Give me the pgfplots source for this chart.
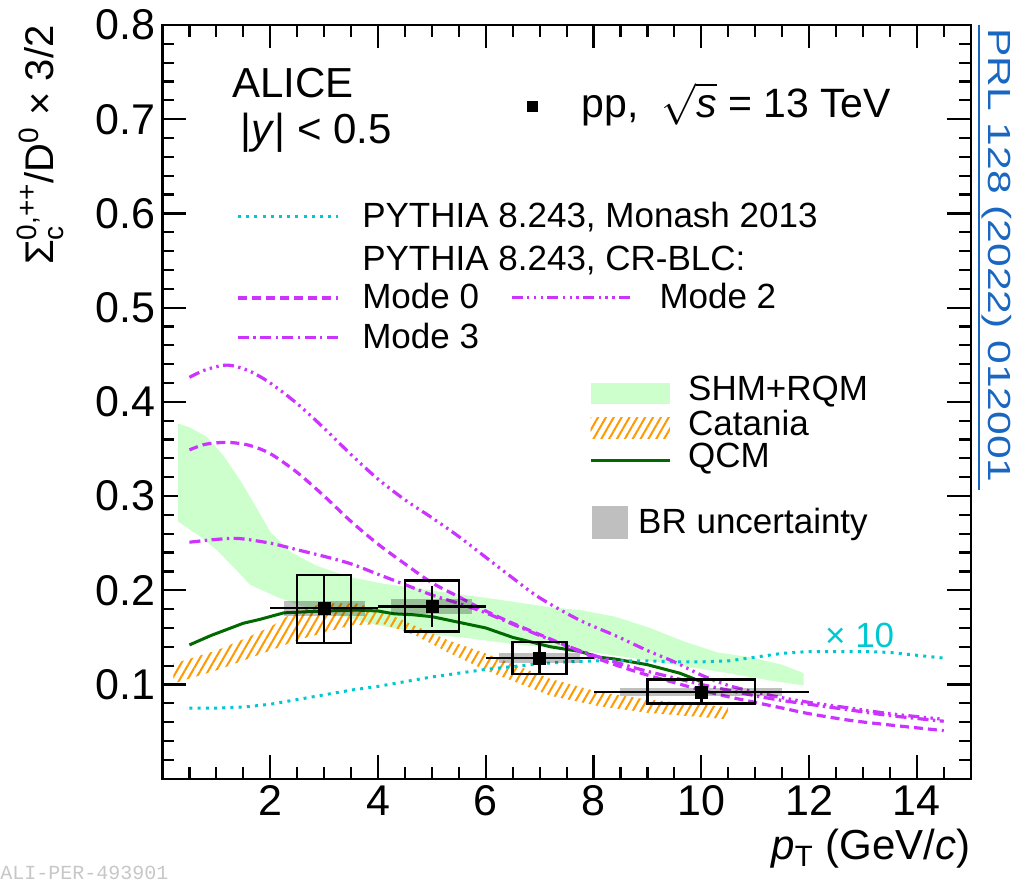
\documentclass[border=0pt]{standalone}
\usepackage{amsmath}
\usepackage{graphicx}
\usepackage{fontspec}
\setmainfont{Liberation Sans}
\newfontfamily\monofont{Liberation Mono}
\usepackage{pgfplots}
\usepackage{pgfplotstable}
\pgfplotsset{compat=1.18}
\usetikzlibrary{patterns.meta}

\definecolor{shm}{RGB}{204,255,204}
\definecolor{qcm}{RGB}{0,105,0}
\definecolor{mag}{RGB}{204,51,255}
\definecolor{cyn}{RGB}{0,200,210}
\definecolor{catania}{RGB}{255,153,0}
\definecolor{prlblue}{RGB}{25,103,192}

\tikzset{
  m0/.style={mag, line width=1.6pt, dash pattern=on 4.5pt off 2.5pt},
  m3/.style={mag, line width=1.6pt, dash pattern=on 5.5pt off 2.2pt on 1.2pt off 2.2pt},
  m2/.style={mag, line width=1.6pt, dash pattern=on 5.5pt off 2.2pt on 1.2pt off 2.2pt on 1.2pt off 2.2pt on 1.2pt off 2.2pt},
  monash/.style={cyn, line width=1.5pt, dash pattern=on 1.5pt off 2.6pt},
  qcmline/.style={qcm, line width=1.5pt},
  hatch/.style={draw=none, pattern={Lines[angle=60,distance=3.4pt,line width=1pt]}, pattern color=catania},
}

\pgfplotstableread{
x y ex ey
3 0.181 1 0.036
5 0.183 1 0.022
7 0.128 1 0.017
10 0.092 2 0.0125
}\datatable

\newcommand{\legfont}{\fontsize{17.5}{20}\selectfont}
\newcommand{\bigfont}{\fontsize{21}{25}\selectfont}

\begin{document}
\begin{tikzpicture}
\path[use as bounding box] (-81.25pt,-51.65pt) rectangle (430.75pt,389.35pt);
\begin{axis}[
  at={(0pt,0pt)}, anchor=south west,
  scale only axis, width=404.1pt, height=376.85pt,
  xmin=0, xmax=15, ymin=0, ymax=0.8,
  clip=false,
  axis line style={line width=1.1pt},
  tick align=inside,
  tick style={line width=1.1pt, black},
  major tick length=11.7pt, minor tick length=5.8pt,
  xtick={2,4,6,8,10,12,14},
  minor xtick={0.5,1,1.5,2.5,3,3.5,4.5,5,5.5,6.5,7,7.5,8.5,9,9.5,10.5,11,11.5,12.5,13,13.5,14.5},
  ytick={0.1,0.2,0.3,0.4,0.5,0.6,0.7,0.8},
  minor ytick={0.02,0.04,0.06,0.08,0.12,0.14,0.16,0.18,0.22,0.24,0.26,0.28,0.32,0.34,0.36,0.38,0.42,0.44,0.46,0.48,0.52,0.54,0.56,0.58,0.62,0.64,0.66,0.68,0.72,0.74,0.76,0.78},
  ticklabel style={font=\fontsize{21.5}{25}\selectfont},
  yticklabel style={/pgf/number format/.cd, fixed, fixed zerofill, precision=1, assume math mode=true},
  xticklabel style={/pgf/number format/.cd, assume math mode=true},
]
% SHM+RQM band
\addplot[draw=none, fill=shm] coordinates {
(0.29,0.377)(0.5,0.373)(0.82,0.363)(1.13,0.343)(1.44,0.317)(1.75,0.287)(2.0,0.262)(2.37,0.241)(2.86,0.226)(3.48,0.214)(4.1,0.207)(4.72,0.202)(5.33,0.197)(6.0,0.192)(6.6,0.187)(7.2,0.182)(7.75,0.179)(8.4,0.172)(9.05,0.160)(9.66,0.146)(10.3,0.134)(10.9,0.129)(11.5,0.121)(11.9,0.112)
(11.9,0.099)(11.3,0.104)(10.5,0.112)(9.6,0.120)(8.5,0.130)(7.75,0.136)(6.5,0.143)(5.7,0.149)(5.0,0.153)(4.5,0.158)(4.0,0.163)(3.5,0.170)(3.0,0.178)(2.55,0.184)(2.12,0.193)(1.62,0.206)(1.38,0.221)(1.0,0.243)(0.7,0.257)(0.29,0.273)
};
% Catania band
\addplot[hatch] coordinates {
(0.2,0.122)(1.0,0.136)(1.5,0.148)(2.0,0.161)(2.5,0.179)(3.0,0.186)(3.6,0.186)(4.0,0.180)(4.5,0.167)(5.3,0.147)(6.0,0.133)(7.2,0.106)(8.1,0.092)(9.0,0.084)(10.5,0.076)
(10.5,0.063)(9.0,0.070)(8.1,0.077)(7.2,0.088)(6.0,0.115)(5.3,0.134)(4.7,0.152)(4.1,0.164)(3.5,0.163)(3.0,0.155)(2.5,0.147)(2.0,0.136)(1.0,0.115)(0.2,0.101)
};
% QCM
\addplot[qcmline, mark=none] coordinates {
(0.5,0.142)(0.9,0.152)(1.5,0.165)(1.8,0.169)(2.25,0.176)(2.6,0.177)(3.0,0.178)(3.6,0.179)(4.0,0.178)(4.3,0.175)(4.65,0.174)(5.0,0.172)(5.5,0.166)(6.0,0.160)(6.5,0.150)(7.2,0.140)(7.75,0.135)(8.1,0.129)(8.4,0.127)(9.0,0.121)(9.6,0.112)(10.0,0.103)
};
% PYTHIA Monash (x10)
\addplot[monash, mark=none] coordinates {
(0.5,0.075)(1.0,0.075)(1.5,0.076)(2.0,0.079)(2.5,0.084)(3.0,0.089)(3.5,0.094)(4.0,0.098)(4.5,0.103)(5.0,0.108)(5.5,0.112)(6.0,0.116)(6.5,0.119)(7.0,0.122)(7.5,0.124)(8.0,0.125)(8.5,0.125)(9.0,0.125)(9.5,0.124)(10.0,0.124)(10.5,0.125)(11.0,0.129)(11.5,0.133)(12.0,0.135)(12.5,0.135)(13.0,0.135)(13.5,0.134)(14.0,0.131)(14.5,0.128)
};
% Mode 0
\addplot[m0, mark=none, smooth] coordinates {
(0.5,0.349)(0.8,0.355)(1.2,0.357)(1.6,0.354)(2.0,0.345)(2.5,0.325)(3.0,0.300)(3.5,0.273)(4.0,0.249)(4.5,0.228)(5.0,0.208)(5.5,0.193)(6.0,0.178)(6.5,0.165)(7.0,0.153)(7.5,0.141)(8.0,0.129)(8.5,0.119)(9.0,0.110)(9.5,0.102)(10.0,0.094)(10.5,0.087)(11.0,0.081)(11.5,0.075)(12.0,0.069)(12.75,0.062)(13.5,0.057)(14.5,0.051)
};
% Mode 3
\addplot[m3, mark=none, smooth] coordinates {
(0.5,0.251)(1.0,0.254)(1.4,0.255)(2.0,0.250)(2.5,0.243)(3.0,0.236)(3.5,0.228)(4.0,0.217)(4.5,0.206)(5.0,0.195)(5.5,0.186)(6.0,0.176)(6.5,0.164)(7.0,0.152)(7.5,0.141)(8.0,0.131)(8.5,0.122)(9.0,0.114)(9.5,0.107)(10.0,0.100)(10.5,0.094)(11.0,0.088)(11.5,0.083)(12.0,0.079)(12.75,0.073)(13.5,0.067)(14.5,0.061)
};
% Mode 2
\addplot[m2, mark=none, smooth] coordinates {
(0.5,0.426)(0.8,0.434)(1.2,0.439)(1.6,0.433)(2.0,0.420)(2.5,0.398)(3.0,0.372)(3.5,0.344)(4.0,0.318)(4.5,0.296)(5.0,0.277)(5.5,0.257)(6.0,0.235)(6.5,0.213)(7.0,0.192)(7.75,0.168)(8.4,0.152)(9.0,0.136)(9.5,0.124)(10.0,0.110)(10.5,0.099)(11.0,0.092)(11.5,0.086)(12.0,0.081)(12.75,0.075)(13.5,0.069)(14.5,0.063)
};
% BR uncertainty boxes
\addplot[draw=none, fill=black, fill opacity=0.25] coordinates {(2.25,0.173)(3.75,0.173)(3.75,0.189)(2.25,0.189)};
\addplot[draw=none, fill=black, fill opacity=0.25] coordinates {(4.25,0.175)(5.75,0.175)(5.75,0.191)(4.25,0.191)};
\addplot[draw=none, fill=black, fill opacity=0.25] coordinates {(6.25,0.1225)(7.75,0.1225)(7.75,0.1335)(6.25,0.1335)};
\addplot[draw=none, fill=black, fill opacity=0.25] coordinates {(8.5,0.088)(11.5,0.088)(11.5,0.0965)(8.5,0.0965)};
% systematic boxes
\addplot[black, line width=1.3pt, line cap=rect, mark=none] coordinates {(2.5,0.144)(3.5,0.144)(3.5,0.216)(2.5,0.216)(2.5,0.144)};
\addplot[black, line width=1.3pt, line cap=rect, mark=none] coordinates {(4.5,0.1565)(5.5,0.1565)(5.5,0.2105)(4.5,0.2105)(4.5,0.1565)};
\addplot[black, line width=1.3pt, line cap=rect, mark=none] coordinates {(6.5,0.111)(7.5,0.111)(7.5,0.145)(6.5,0.145)(6.5,0.111)};
\addplot[black, line width=1.3pt, line cap=rect, mark=none] coordinates {(9,0.080)(11,0.080)(11,0.105)(9,0.105)(9,0.080)};
% data points
\addplot[black, only marks, mark=square*, mark size=3pt,
  error bars/.cd, x dir=both, x explicit, y dir=both, y explicit,
  error mark=none, error bar style={line width=1.3pt, black}]
  table[x=x, y=y, x error=ex, y error=ey] {\datatable};

% texts
\node[anchor=base west, inner sep=0, font=\bigfont] at (axis cs:1.29,0.7235) {ALICE};
\node[anchor=base west, inner sep=0, font=\bigfont] at (axis cs:1.44,0.6738) {|\textit{y}| < 0.5};
\node[fill=black, minimum size=5.5pt, inner sep=0] at (axis cs:6.874,0.7134) {};
\node[anchor=base west, inner sep=0, font=\fontsize{20.5}{24}\selectfont] at (axis cs:7.777,0.702) {pp,\ \ $\sqrt{\text{\itshape s}}$ = 13 TeV};

\draw[monash] (axis cs:1.401,0.5967) -- (axis cs:3.256,0.5967);
\node[anchor=base west, inner sep=0, font=\legfont] at (axis cs:3.701,0.5854) {PYTHIA 8.243, Monash 2013};
\node[anchor=base west, inner sep=0, font=\legfont] at (axis cs:3.701,0.5394) {PYTHIA 8.243, CR-BLC:};
\draw[m0] (axis cs:1.401,0.5103) -- (axis cs:3.256,0.5103);
\node[anchor=base west, inner sep=0, font=\legfont] at (axis cs:3.701,0.4988) {Mode 0};
\draw[m2] (axis cs:6.479,0.5111) -- (axis cs:8.736,0.5111);
\node[anchor=base west, inner sep=0, font=\legfont] at (axis cs:9.217,0.4988) {Mode 2};
\draw[m3] (axis cs:1.401,0.4687) -- (axis cs:3.256,0.4687);
\node[anchor=base west, inner sep=0, font=\legfont] at (axis cs:3.701,0.4562) {Mode 3};

\fill[shm] (axis cs:7.944,0.3981) rectangle (axis cs:9.419,0.4199);
\node[anchor=base west, inner sep=0, font=\legfont] at (axis cs:9.749,0.4016) {SHM+RQM};
\fill[hatch] (axis cs:7.944,0.361) rectangle (axis cs:9.419,0.3839);
\node[anchor=base west, inner sep=0, font=\legfont] at (axis cs:9.749,0.3645) {Catania};
\draw[qcmline] (axis cs:7.944,0.338) -- (axis cs:9.419,0.338);
\node[anchor=base west, inner sep=0, font=\legfont] at (axis cs:9.749,0.3305) {QCM};
\fill[black!25] (axis cs:7.968,0.2542) rectangle (axis cs:8.631,0.2895);
\node[anchor=base west, inner sep=0, font=\legfont] at (axis cs:8.822,0.2606) {BR uncertainty};

\node[anchor=base west, inner sep=0, text=cyn, font=\legfont] at (axis cs:12.291,0.1397) {× 10};
\end{axis}

% axis labels
\node[rotate=90, anchor=base east, inner sep=0, font=\fontsize{20}{24}\selectfont] at (-54.6pt,376.85pt)
  {$\text{Σ}_{\text{c}}^{\text{0,++}}$/D$^{\text{0}}$ × 3/2};
\node[anchor=base east, inner sep=0, font=\fontsize{21}{25}\selectfont] at (404.1pt,-40.65pt)
  {\textit{p}$_{\text{T}}$ (GeV/\textit{c})};

% PRL reference
\node[rotate=-90, anchor=base west, inner sep=0, text=prlblue, font=\fontsize{16}{19}\selectfont] at (412.75pt,375.35pt)
  {\scalebox{1.33}[1]{PRL 128 (2022) 012001}};
\draw[prlblue, line width=1pt] (408.25pt,376.85pt) -- (408.25pt,144.35pt);

% watermark
\node[anchor=base west, inner sep=0, text=black!22, font=\monofont\fontsize{10}{12}\selectfont] at (-81.25pt,-50.6pt) {ALI-PER-493901};
\end{tikzpicture}
\end{document}
